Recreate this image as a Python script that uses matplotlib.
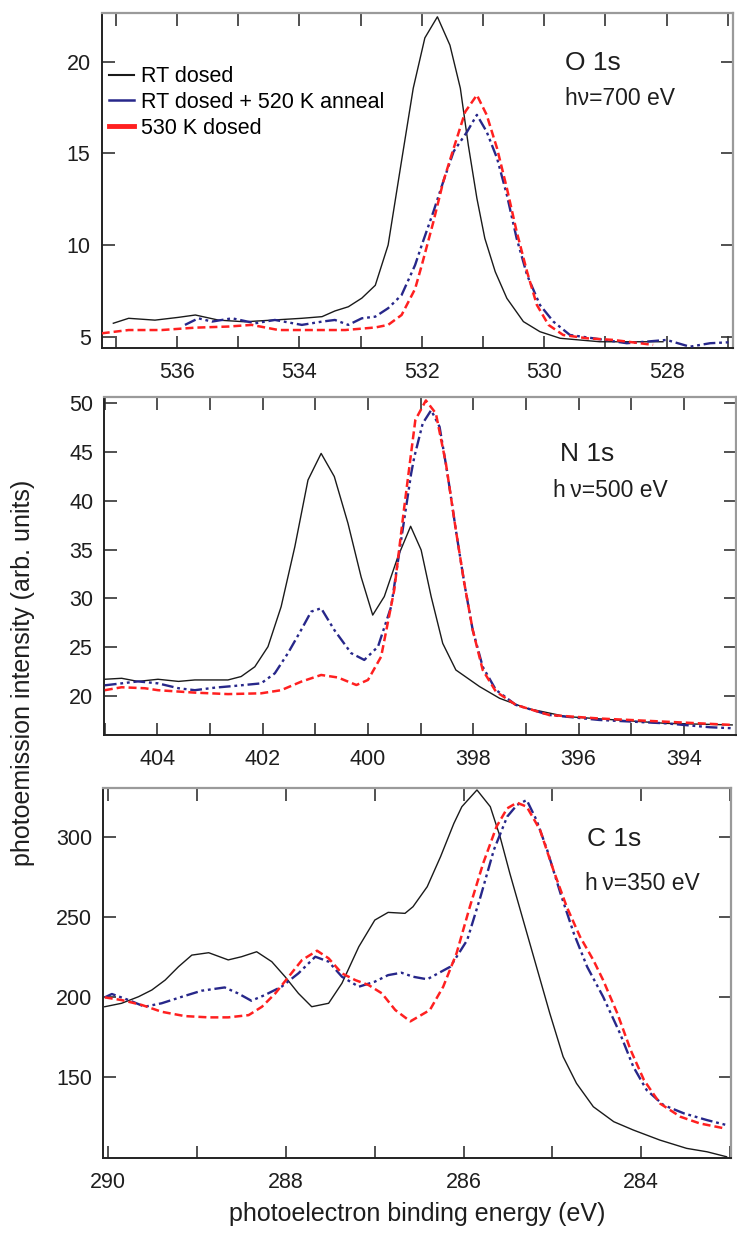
import matplotlib
matplotlib.use("Agg")
import matplotlib.pyplot as plt
from matplotlib.lines import Line2D
from matplotlib.ticker import MultipleLocator

plt.rcParams['font.family'] = ['Liberation Sans', 'DejaVu Sans']

# ---------------- data: O 1s ----------------
o_rt_E = [537.04, 536.79, 536.36, 535.98, 535.70, 535.32, 534.89, 534.45, 533.96, 533.63,
          533.42, 533.20, 532.98, 532.76, 532.55, 532.34, 532.14, 531.95, 531.745, 531.54,
          531.37, 531.24, 531.10, 530.97, 530.80, 530.61, 530.34, 530.07, 529.74, 529.09, 528.06]
o_rt_I = [5.73, 6.00, 5.90, 6.05, 6.18, 5.90, 5.81, 5.90, 6.00, 6.09,
          6.40, 6.63, 7.10, 7.80, 10.0, 14.4, 18.55, 21.3, 22.45, 20.9,
          18.55, 15.45, 12.55, 10.36, 8.54, 7.09, 5.82, 5.27, 4.91, 4.72, 4.72]

o_ann_E = [535.87, 535.65, 535.43, 535.10, 534.72, 534.40, 533.96, 533.63, 533.42, 533.20,
           532.98, 532.76, 532.55, 532.33, 532.11, 532.00, 531.81, 531.65, 531.48, 531.26,
           531.10, 530.94, 530.77, 530.61, 530.45, 530.28, 530.07, 529.85, 529.58, 529.20,
           528.65, 528.00, 527.62, 527.29, 526.99]
o_ann_I = [5.64, 6.00, 5.82, 6.00, 5.73, 5.91, 5.64, 5.82, 5.91, 5.64,
           6.00, 6.09, 6.55, 7.27, 8.9, 10.0, 11.82, 13.45, 15.1, 16.18,
           17.1, 16.18, 14.73, 12.73, 10.36, 8.36, 6.73, 5.82, 5.09, 4.91,
           4.64, 4.82, 4.45, 4.64, 4.69]

o_hot_E = [537.23, 536.79, 536.25, 535.70, 535.16, 534.78, 534.34, 533.80, 533.25, 532.76,
           532.55, 532.33, 532.11, 532.00, 531.81, 531.65, 531.48, 531.29, 531.10, 530.94,
           530.77, 530.61, 530.45, 530.28, 530.12, 529.93, 529.69, 529.30, 528.87, 528.22]
o_hot_I = [5.18, 5.36, 5.36, 5.49, 5.55, 5.64, 5.36, 5.36, 5.36, 5.50,
           5.64, 6.18, 7.6, 8.9, 11.27, 13.45, 15.27, 17.27, 18.18, 17.1,
           15.27, 13.1, 10.73, 8.54, 6.73, 5.64, 5.09, 4.91, 4.82, 4.55]

# ---------------- data: N 1s ----------------
n_rt_E = [405.0, 404.68, 404.37, 403.99, 403.6, 403.29, 402.66, 402.41, 402.15, 401.90,
          401.65, 401.39, 401.14, 400.89, 400.64, 400.38, 400.13, 399.91, 399.69, 399.43,
          399.19, 398.99, 398.80, 398.58, 398.33, 397.88, 397.50, 396.99, 396.24, 395.29,
          394.34, 393.08]
n_rt_I = [21.72, 21.82, 21.5, 21.72, 21.5, 21.65, 21.65, 22.0, 23.0, 25.06,
          29.16, 35.3, 42.14, 44.87, 42.5, 37.7, 32.2, 28.3, 30.2, 34.3,
          37.4, 34.97, 30.2, 25.4, 22.67, 20.97, 19.77, 18.75, 17.9, 17.55,
          17.2, 17.04]

n_ann_E = [405.0, 404.68, 404.37, 403.99, 403.6, 403.29, 402.91, 402.53, 402.03, 401.77,
           401.52, 401.27, 401.08, 400.89, 400.64, 400.32, 400.07, 399.81, 399.56, 399.37,
           399.18, 399.12, 398.96, 398.80, 398.64, 398.49, 398.33, 398.17, 398.01, 397.82,
           397.57, 397.19, 396.56, 395.61, 394.34, 393.50, 393.08]
n_ann_I = [21.1, 21.3, 21.5, 21.3, 20.8, 20.6, 20.86, 21.04, 21.3, 22.33,
           24.4, 26.77, 28.65, 29.0, 26.77, 24.4, 23.7, 25.06, 29.16, 36.0,
           42.8, 44.5, 47.95, 49.3, 47.6, 42.8, 37.0, 31.56, 26.77, 23.0,
           20.63, 19.09, 18.06, 17.55, 17.2, 16.8, 16.7]

n_hot_E = [405.0, 404.68, 404.24, 403.99, 403.29, 402.66, 402.03, 401.65, 401.27, 400.89,
           400.57, 400.22, 400.00, 399.75, 399.50, 399.31, 399.15, 399.10, 398.90, 398.71,
           398.52, 398.33, 398.17, 398.01, 397.82, 397.57, 397.19, 396.56, 395.61, 394.34,
           393.08]
n_hot_I = [20.6, 20.9, 20.8, 20.6, 20.35, 20.2, 20.28, 20.6, 21.47, 22.16,
           21.9, 21.13, 21.65, 24.04, 30.9, 39.4, 46.2, 48.3, 50.3, 48.97,
           43.85, 37.0, 31.56, 26.77, 22.67, 20.46, 19.09, 18.06, 17.7, 17.37,
           17.04]

# ---------------- data: C 1s ----------------
c_rt_E = [290.04, 289.85, 289.66, 289.51, 289.36, 289.21, 289.06, 288.87, 288.65, 288.50,
          288.33, 288.16, 288.01, 287.86, 287.71, 287.52, 287.37, 287.18, 287.00, 286.85,
          286.66, 286.57, 286.41, 286.26, 286.11, 286.02, 285.85, 285.70, 285.59, 285.48,
          285.33, 285.18, 285.03, 284.88, 284.73, 284.54, 284.31, 284.09, 283.79, 283.49,
          283.26, 283.04]
c_rt_I = [193.75, 195.9, 200, 204.2, 210.4, 218.75, 226, 227.5, 223, 225,
          228.1, 221.9, 212.5, 202.1, 193.75, 195.9, 208.4, 231.25, 247.9, 252.7,
          252.1, 256.25, 268.75, 287.5, 308.3, 318.75, 329.2, 318.75, 300, 277.1,
          247.9, 218.75, 189.6, 162.5, 145.9, 131.25, 121.9, 116.7, 110.4, 105.25,
          103.1, 100]

c_ann_E = [290.04, 289.96, 289.77, 289.59, 289.40, 289.17, 288.95, 288.69, 288.54, 288.39,
           288.24, 288.05, 287.86, 287.67, 287.52, 287.37, 287.18, 287.00, 286.85, 286.70,
           286.57, 286.41, 286.15, 285.96, 285.81, 285.66, 285.51, 285.40, 285.29, 285.18,
           285.06, 284.91, 284.76, 284.61, 284.43, 284.24, 284.09, 283.94, 283.75, 283.52,
           283.26, 283.04]
c_ann_I = [199.6, 201.7, 197.9, 193.75, 195.9, 200, 203.75, 205.8, 202.1, 197.5,
           201, 206.25, 214.6, 225, 221.9, 212.5, 206.25, 209.4, 213.5, 215,
           212.5, 210.9, 218.75, 235.4, 262.5, 291.7, 312.5, 319.8, 322.9, 310.4,
           291.7, 264.6, 239.6, 218.75, 200, 177.1, 156.25, 141.7, 132.3, 127.1,
           122.9, 119.8]

c_hot_E = [290.04, 289.85, 289.62, 289.40, 289.14, 288.87, 288.65, 288.42, 288.27, 288.12,
           287.97, 287.82, 287.65, 287.52, 287.37, 287.22, 287.07, 286.92, 286.77, 286.60,
           286.38, 286.23, 286.08, 285.93, 285.78, 285.63, 285.51, 285.40, 285.29, 285.14,
           284.99, 284.84, 284.69, 284.54, 284.43, 284.27, 284.12, 283.97, 283.79, 283.56,
           283.34, 283.06]
c_hot_I = [199.6, 197.9, 194.8, 190.6, 187.9, 187.1, 187.1, 188.5, 193.75, 202.1,
           212.5, 222.9, 228.75, 224, 214.6, 210.4, 207.3, 202.1, 191.7, 184.6,
           191.7, 206.25, 227.1, 256.25, 283.4, 306.25, 317.7, 321.25, 318.75, 304.2,
           279.2, 256.25, 237.5, 222.9, 210.4, 189.6, 166.7, 147.9, 133.3, 125,
           120.8, 117.7]

legend_labels = ["RT dosed", "RT dosed + 520 K anneal", "530 K dosed"]
panel_titles = ["O 1s", "N 1s", "C 1s"]
panel_energies = ["h\u03bd=700 eV", "h\u2009\u03bd=500 eV", "h\u2009\u03bd=350 eV"]
o_yticks = [5, 10, 15, 20]
n_yticks = [20, 25, 30, 35, 40, 45, 50]
c_yticks = [150, 200, 250, 300]

BLACK = "#1a1a1a"
BLUE = "#27278a"
RED = "#ff2020"
blue_ls = (0, (5, 1.6, 1.2, 1.6, 1.2, 1.6))
red_ls = (0, (3.2, 1.6))

fig = plt.figure(figsize=(7.37, 12.34), dpi=100)
axes = [
    fig.add_axes([0.138, 0.7177, 0.857, 0.2715]),
    fig.add_axes([0.1415, 0.4044, 0.857, 0.2741]),
    fig.add_axes([0.1402, 0.0613, 0.8517, 0.2999]),
]

series = [
    (o_rt_E, o_rt_I, o_ann_E, o_ann_I, o_hot_E, o_hot_I),
    (n_rt_E, n_rt_I, n_ann_E, n_ann_I, n_hot_E, n_hot_I),
    (c_rt_E, c_rt_I, c_ann_E, c_ann_I, c_hot_E, c_hot_I),
]
xlims = [(537.23, 526.91), (405.01, 393.01), (290.056, 282.99)]
ylims = [(4.36, 22.64), (16.01, 50.68), (99.0, 330.25)]
yticks = [o_yticks, n_yticks, c_yticks]
title_pos = [((0.733, 0.852), (0.733, 0.745)),
             ((0.721, 0.830), (0.710, 0.724)),
             ((0.770, 0.862), (0.7675, 0.744))]

for ax, s, xl, yl, yt, tp, t1, t2 in zip(axes, series, xlims, ylims, yticks,
                                          title_pos, panel_titles, panel_energies):
    rE, rI, aE, aI, hE, hI = s
    ax.plot(rE, rI, color=BLACK, lw=1.0, zorder=3)
    ax.plot(aE, aI, color=BLUE, lw=1.7, ls=blue_ls, zorder=4)
    ax.plot(hE, hI, color=RED, lw=1.8, ls=red_ls, zorder=5)
    ax.set_xlim(*xl)
    ax.set_ylim(*yl)
    ax.xaxis.set_major_locator(MultipleLocator(2))
    ax.xaxis.set_minor_locator(MultipleLocator(1))
    ax.set_yticks(yt)
    ax.tick_params(which='both', direction='in', top=True, right=True,
                   length=9, width=1.2, color='#333333')
    ax.tick_params(which='major', labelsize=15.5, labelcolor='#1e1e1e')
    ax.tick_params(axis='x', which='major', pad=10)
    ax.tick_params(axis='y', which='major', pad=8)
    for side in ['left', 'bottom']:
        ax.spines[side].set_color('#222222')
        ax.spines[side].set_linewidth(1.4)
    for side in ['top', 'right']:
        ax.spines[side].set_color('#9a9a9a')
        ax.spines[side].set_linewidth(1.6)
    ax.text(tp[0][0], tp[0][1], t1, transform=ax.transAxes, fontsize=19,
            va='center', ha='left', color='#1e1e1e')
    ax.text(tp[1][0], tp[1][1], t2, transform=ax.transAxes, fontsize=16.5,
            va='center', ha='left', color='#1e1e1e',
            family=['Liberation Sans', 'DejaVu Sans'])

handles = [Line2D([], [], color=BLACK, lw=1.5),
           Line2D([], [], color=BLUE, lw=1.8),
           Line2D([], [], color=RED, lw=3.5)]
axes[0].legend(handles, legend_labels, loc='upper left', bbox_to_anchor=(0.012, 0.842),
               frameon=False, fontsize=15.5, handlelength=1.15, handletextpad=0.3,
               labelspacing=0.22, borderpad=0, borderaxespad=0)

fig.text(0.031, 0.455, "photoemission intensity (arb. units)", rotation=90,
         fontsize=18, ha='center', va='center', color='#1e1e1e')
axes[2].set_xlabel("photoelectron binding energy (eV)", fontsize=18, color='#1e1e1e',
                   labelpad=6)

fig.savefig("out.png", dpi=100)
